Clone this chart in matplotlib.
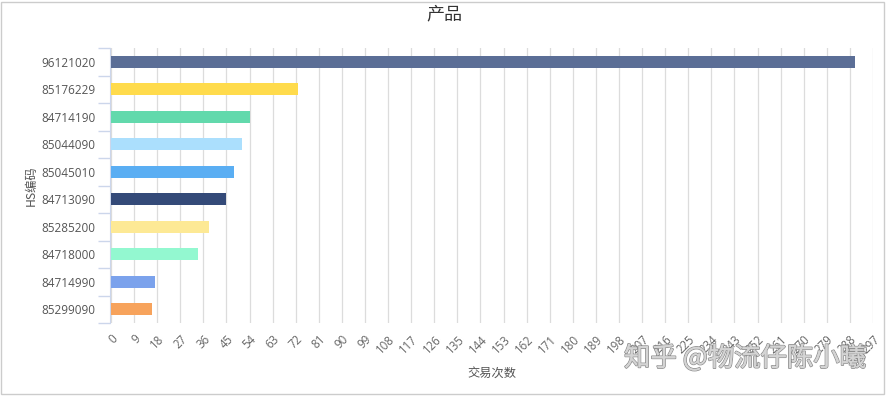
import numpy as np
import matplotlib
matplotlib.use("Agg")
import matplotlib.pyplot as plt
from matplotlib.patches import Rectangle
import matplotlib.patheffects as pe

plt.rcParams['font.family'] = ['Open Sans', 'Noto Sans CJK SC', 'DejaVu Sans']

codes = ['96121020', '85176229', '84714190', '85044090', '85045010',
         '84713090', '85285200', '84718000', '84714990', '85299090']
counts = [290, 73, 54, 51, 48, 45, 38, 34, 17, 16]
colors = ['#5b6e96', '#ffdb4c', '#62d9ac', '#abdffd', '#5aaef3',
          '#344a78', '#fde995', '#93f8d0', '#7ba2ec', '#f7a35c']
xticks = list(range(0, 298, 9))

fig = plt.figure(figsize=(8.89, 3.98), dpi=100)
ax = fig.add_axes([0.1249, 0.1884, 0.982 - 0.1249, 0.8794 - 0.1884])

y = np.arange(len(codes))
ax.barh(y, counts, height=0.45, color=colors, zorder=3)
ax.set_ylim(len(codes) - 0.5, -0.5)
ax.set_xlim(0, 297)

ax.set_yticks(y)
ax.set_yticklabels(codes)
ax.set_yticks(np.arange(-0.5, len(codes), 1), minor=True)
ax.tick_params(axis='y', which='major', length=0, pad=10,
               labelsize=8.5, labelcolor='#555555')
ax.tick_params(axis='y', which='minor', length=9, color='#ccd6eb', width=1)

ax.set_xticks(xticks)
ax.set_xticklabels([str(v) for v in xticks], rotation=45, ha='right', va='top',
                   rotation_mode='anchor')
ax.tick_params(axis='x', length=0, pad=7, labelsize=8.3, labelcolor='#666666')
ax.grid(axis='x', color='#dcdcdc', linewidth=0.9, zorder=0)

for s in ['top', 'right', 'bottom']:
    ax.spines[s].set_visible(False)
ax.spines['left'].set_color('#ccd6eb')
ax.spines['left'].set_position(('outward', 1))

ax.set_xlabel('交易次数', fontsize=8.8, color='#555555', labelpad=8,
              family=['Noto Sans CJK SC'])
ax.set_ylabel('HS编码', fontsize=8.8, color='#555555', labelpad=3,
              family=['Noto Sans CJK SC'])

fig.text(0.5, 0.963, '产品', ha='center', va='center', fontsize=13, color='#333333',
         family=['Noto Sans CJK SC'])

fig.text(0.838, 0.1, '知乎 @物流仔陈小曦', ha='center', va='center', fontsize=19,
         color='#d4d4d4', family=['Noto Sans CJK SC'],
         path_effects=[pe.withStroke(linewidth=1.2, foreground='#8f8f8f'), pe.Normal()])

fig.patches.append(Rectangle((0.0015, 0.01), 0.993, 0.985, transform=fig.transFigure,
                             fill=False, edgecolor='#cccccc', linewidth=1))

fig.savefig('out.png', dpi=100)
